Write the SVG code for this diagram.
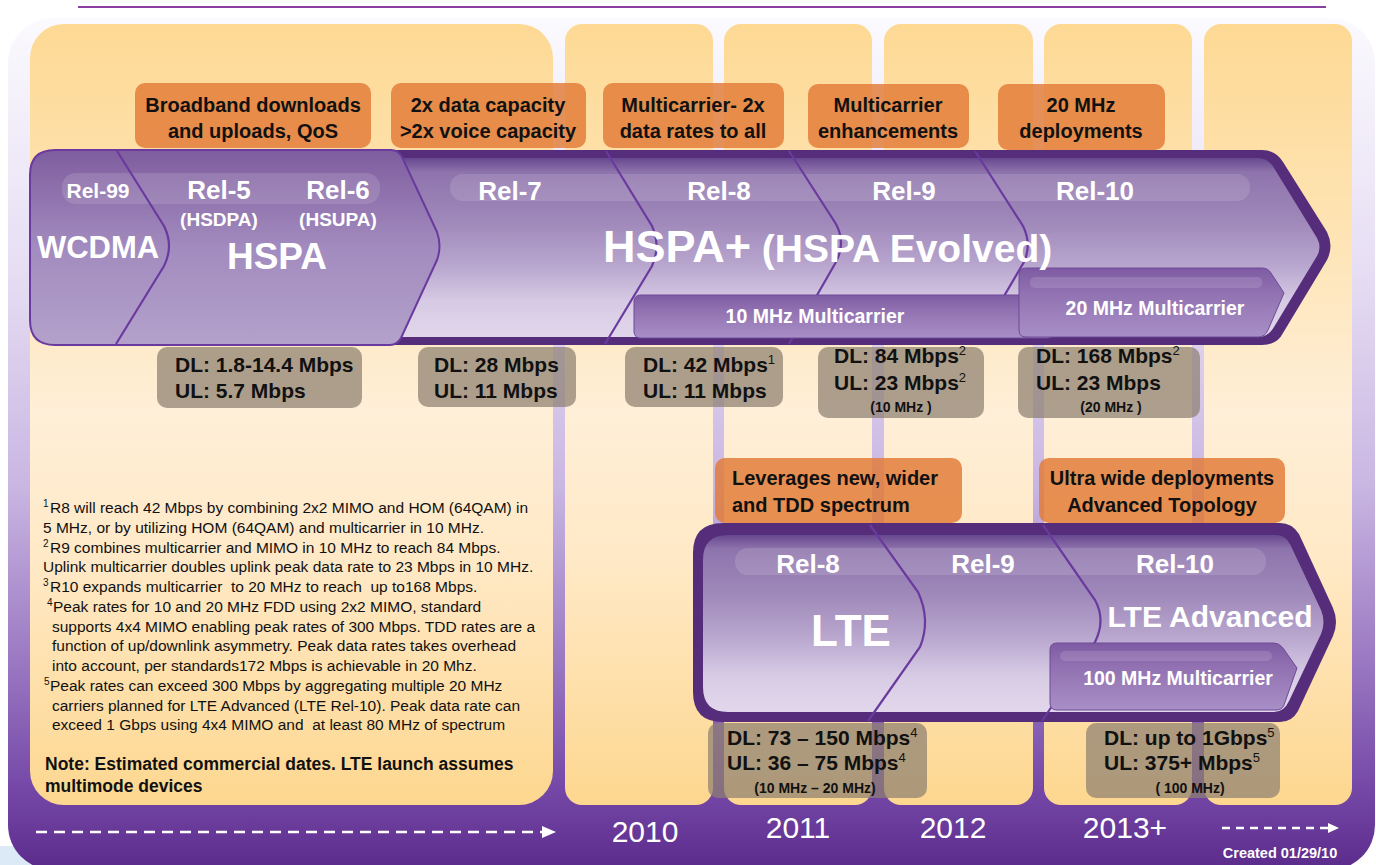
<svg xmlns="http://www.w3.org/2000/svg" width="1376" height="865" viewBox="0 0 1376 865">
<defs>
<linearGradient id="bgGrad" gradientUnits="userSpaceOnUse" x1="0" y1="18" x2="0" y2="870">
<stop offset="0" stop-color="#FBFAFE"/>
<stop offset="0.3" stop-color="#E6DDF3"/>
<stop offset="0.55" stop-color="#C9B6E2"/>
<stop offset="0.75" stop-color="#9C7AC3"/>
<stop offset="0.9" stop-color="#7649A8"/>
<stop offset="1" stop-color="#5B2B8C"/>
</linearGradient>
<linearGradient id="panelGrad" gradientUnits="userSpaceOnUse" x1="0" y1="24" x2="0" y2="805">
<stop offset="0" stop-color="#FDD994"/>
<stop offset="0.25" stop-color="#FEE3B2"/>
<stop offset="0.5" stop-color="#FFEFD8"/>
<stop offset="0.7" stop-color="#FFE8C4"/>
<stop offset="1" stop-color="#FDD78F"/>
</linearGradient>
<linearGradient id="hInner" gradientUnits="userSpaceOnUse" x1="0" y1="158" x2="0" y2="337">
<stop offset="0" stop-color="#674890"/>
<stop offset="0.08" stop-color="#8E74AC"/>
<stop offset="0.35" stop-color="#9F88BA"/>
<stop offset="0.6" stop-color="#B8A6CE"/>
<stop offset="0.8" stop-color="#D6CAE4"/>
<stop offset="1" stop-color="#E1D7EB"/>
</linearGradient>
<linearGradient id="lInner" gradientUnits="userSpaceOnUse" x1="0" y1="535" x2="0" y2="712">
<stop offset="0" stop-color="#674890"/>
<stop offset="0.08" stop-color="#8E74AC"/>
<stop offset="0.35" stop-color="#A08ABB"/>
<stop offset="0.6" stop-color="#BCAAD1"/>
<stop offset="0.8" stop-color="#D8CCE5"/>
<stop offset="1" stop-color="#E1D7EB"/>
</linearGradient>
<linearGradient id="chevGrad" gradientUnits="userSpaceOnUse" x1="0" y1="150" x2="0" y2="345">
<stop offset="0" stop-color="#7F5D9F"/>
<stop offset="0.5" stop-color="#A28BBE"/>
<stop offset="1" stop-color="#B3A1CB"/>
</linearGradient>
<linearGradient id="barGrad" x1="0" y1="0" x2="0" y2="1">
<stop offset="0" stop-color="#7E5BA3"/>
<stop offset="0.35" stop-color="#9171B1"/>
<stop offset="1" stop-color="#A88FC6"/>
</linearGradient>
<style>
text{font-family:"Liberation Sans",Arial,Helvetica,sans-serif}
.ob{font-weight:bold;font-size:20px;fill:#111;text-anchor:middle}
.obl{font-weight:bold;font-size:20px;fill:#111}
.rel{font-weight:bold;font-size:26px;fill:#fff;text-anchor:middle}
.wt{font-weight:bold;fill:#fff;text-anchor:middle}
.bar{font-weight:bold;font-size:19.5px;fill:#fff;text-anchor:middle}
.dl{font-weight:bold;font-size:21px;fill:#111}
.sup{font-weight:normal;font-size:13px}
.sm{font-weight:bold;font-size:14px;fill:#111;text-anchor:middle}
.fn{font-size:15.5px;fill:#111}
.note{font-weight:bold;font-size:17.5px;fill:#111}
.yr{font-size:30px;fill:#fff;text-anchor:middle}
.obox{fill:#E27A36;fill-opacity:0.82}
.dbox{fill:#8E8070;fill-opacity:0.72}
.panel{fill:url(#panelGrad)}
.sep{fill:none;stroke:#6A3A9E;stroke-width:2.2}
.border{fill:#552D7A}
.gloss{fill:#ffffff;fill-opacity:0.13}
.mbar{fill:url(#barGrad);stroke:#6E4A98;stroke-width:1}
.dash{stroke:#fff;stroke-width:2.5;fill:none}
</style>
</defs>

<rect x="0" y="0" width="1376" height="865" fill="#ffffff"/>
<rect x="0" y="846" width="70" height="19" fill="#DCEAF8"/>
<rect id="background" x="8" y="18" width="1367" height="852" rx="45" fill="url(#bgGrad)"/>
<line x1="78" y1="7" x2="1326" y2="7" stroke="#8B3FA0" stroke-width="2"/>

<g id="panels">
<rect class="panel" x="30" y="24" width="523" height="781" rx="34"/>
<rect class="panel" x="565" y="24" width="148" height="781" rx="17"/>
<rect class="panel" x="724" y="24" width="148" height="781" rx="17"/>
<rect class="panel" x="884" y="24" width="149" height="781" rx="17"/>
<rect class="panel" x="1044" y="24" width="148" height="781" rx="17"/>
<rect class="panel" x="1204" y="24" width="148" height="781" rx="17"/>
</g>

<g id="hspa-arrow">
<path class="border" d="M60,150 L1262,150 Q1276,150 1283,162 L1327,232 Q1334,246 1327,260 L1283,333 Q1277,345 1262,345 L60,345 Q30,345 30,315 L30,180 Q30,150 60,150 Z"/>
<path fill="url(#hInner)" d="M62,158 L1258,158 Q1268,158 1274,168 L1317,238 Q1322,247 1317,256 L1274,327 Q1268,337 1258,337 L62,337 Q38,337 38,313 L38,182 Q38,158 62,158 Z"/>
<rect class="gloss" x="450" y="174" width="800" height="27" rx="13"/>
<path class="sep" d="M606,151 L652,226 Q661,246 652,266 L605,344"/>
<path class="sep" d="M789,151 L836,224 Q846,243 836,262 L789,344"/>
<path class="sep" d="M975,151 L1023,226 Q1032,244 1024,262 L990,320"/>
<path fill="url(#chevGrad)" stroke="#6A3A9E" stroke-width="2" d="M55,150 L391,150 Q398,150 402,157 L437,232 Q442,246 437,260 L401,338 Q397,345 390,345 L55,345 Q30,345 30,320 L30,175 Q30,150 55,150 Z"/>
<rect class="gloss" x="62" y="173" width="318" height="31" rx="14"/>
<path class="sep" d="M117,151 L164,226 Q174,246 164,266 L116,344"/>
<rect class="mbar" x="634" y="295" width="420" height="43" rx="6"/>
<path class="mbar" d="M1026,268 L1262,268 Q1268,268 1271,273 L1284,293 L1268,330 Q1265,337 1258,337 L1026,337 Q1019,337 1019,330 L1019,275 Q1019,268 1026,268 Z"/>
<rect class="gloss" x="1030" y="277" width="232" height="11" rx="5"/>
<text class="wt" x="98" y="198" font-size="21">Rel-99</text>
<text class="wt" x="98" y="258" font-size="31">WCDMA</text>
<text class="rel" x="219" y="199">Rel-5</text>
<text class="wt" x="219" y="226" font-size="19">(HSDPA)</text>
<text class="rel" x="338" y="199">Rel-6</text>
<text class="wt" x="338" y="226" font-size="19">(HSUPA)</text>
<text class="wt" x="277" y="269" font-size="37">HSPA</text>
<text class="rel" x="510" y="200">Rel-7</text>
<text class="rel" x="719" y="200">Rel-8</text>
<text class="rel" x="904" y="200">Rel-9</text>
<text class="rel" x="1095" y="200">Rel-10</text>
<text x="603" y="262" font-weight="bold" fill="#fff"><tspan font-size="45">HSPA+</tspan><tspan font-size="39"> (HSPA Evolved)</tspan></text>
<text class="bar" x="815" y="323">10 MHz Multicarrier</text>
<text class="bar" x="1155" y="315">20 MHz Multicarrier</text>
</g>

<g id="hspa-features">
<rect class="obox" x="135" y="83" width="236" height="65" rx="10"/>
<text class="ob" x="253" y="112">Broadband downloads</text>
<text class="ob" x="253" y="138">and uploads, QoS</text>
<rect class="obox" x="391" y="83" width="195" height="65" rx="10"/>
<text class="ob" x="488" y="112">2x data capacity</text>
<text class="ob" x="488" y="138">&gt;2x voice capacity</text>
<rect class="obox" x="603" y="83" width="181" height="65" rx="10"/>
<text class="ob" x="693" y="112">Multicarrier- 2x</text>
<text class="ob" x="693" y="138">data rates to all</text>
<rect class="obox" x="808" y="84" width="161" height="64" rx="10"/>
<text class="ob" x="888" y="112">Multicarrier</text>
<text class="ob" x="888" y="138">enhancements</text>
<rect class="obox" x="998" y="84" width="167" height="66" rx="10"/>
<text class="ob" x="1081" y="112">20 MHz</text>
<text class="ob" x="1081" y="138">deployments</text>
</g>

<g id="hspa-rates">
<rect class="dbox" x="157" y="347" width="205" height="61" rx="10"/>
<text class="dl" x="175" y="372">DL: 1.8-14.4 Mbps</text>
<text class="dl" x="175" y="398">UL: 5.7 Mbps</text>
<rect class="dbox" x="418" y="347" width="158" height="60" rx="10"/>
<text class="dl" x="434" y="372">DL: 28 Mbps</text>
<text class="dl" x="434" y="398">UL: 11 Mbps</text>
<rect class="dbox" x="625" y="347" width="158" height="60" rx="10"/>
<text class="dl" x="643" y="372">DL: 42 Mbps<tspan class="sup" dy="-8">1</tspan></text>
<text class="dl" x="643" y="398">UL: 11 Mbps</text>
<rect class="dbox" x="818" y="347" width="166" height="71" rx="10"/>
<text class="dl" x="834" y="363">DL: 84 Mbps<tspan class="sup" dy="-8">2</tspan></text>
<text class="dl" x="834" y="390">UL: 23 Mbps<tspan class="sup" dy="-8">2</tspan></text>
<text class="sm" x="901" y="412">(10 MHz )</text>
<rect class="dbox" x="1018" y="347" width="182" height="71" rx="10"/>
<text class="dl" x="1036" y="363">DL: 168 Mbps<tspan class="sup" dy="-8">2</tspan></text>
<text class="dl" x="1036" y="390">UL: 23 Mbps</text>
<text class="sm" x="1111" y="412">(20 MHz )</text>
</g>

<g id="lte-features">
<rect class="obox" x="715" y="458" width="247" height="65" rx="10"/>
<text class="obl" x="732" y="485">Leverages new, wider</text>
<text class="obl" x="732" y="512">and TDD spectrum</text>
<rect class="obox" x="1039" y="458" width="246" height="65" rx="10"/>
<text class="ob" x="1162" y="485">Ultra wide deployments</text>
<text class="ob" x="1162" y="512">Advanced Topology</text>
</g>

<g id="lte-arrow">
<path class="border" d="M723,523 L1280,523 Q1292,523 1299,534 L1333,608 Q1339,622 1333,636 L1298,711 Q1292,722 1280,722 L723,722 Q693,722 693,692 L693,553 Q693,523 723,523 Z"/>
<path fill="url(#lInner)" d="M728,535 L1276,535 Q1285,535 1290,544 L1321,610 Q1326,622 1321,634 L1289,701 Q1284,712 1274,712 L728,712 Q703,712 703,687 L703,560 Q703,535 728,535 Z"/>
<rect class="gloss" x="735" y="548" width="531" height="27" rx="13"/>
<path class="sep" d="M870,525 L918,592 Q931,620 920,647 L868,721"/>
<path class="sep" d="M1043,525 L1095,600 Q1106,620 1095,642 L1042,721"/>
<path class="mbar" d="M1057,643 L1274,643 Q1279,643 1283,648 L1297,668 L1284,705 Q1282,710 1276,710 L1057,710 Q1050,710 1050,703 L1050,650 Q1050,643 1057,643 Z"/>
<rect class="gloss" x="1060" y="651" width="212" height="10" rx="5"/>
<text class="rel" x="808" y="573">Rel-8</text>
<text class="rel" x="983" y="573">Rel-9</text>
<text class="rel" x="1175" y="573">Rel-10</text>
<text class="wt" x="851" y="646" font-size="44">LTE</text>
<text class="wt" x="1210" y="627" font-size="30">LTE Advanced</text>
<text class="bar" x="1178" y="685">100 MHz Multicarrier</text>
</g>

<g id="lte-rates">
<rect class="dbox" x="708" y="723" width="219" height="75" rx="10"/>
<text class="dl" x="727" y="745">DL: 73 – 150 Mbps<tspan class="sup" dy="-8">4</tspan></text>
<text class="dl" x="727" y="770">UL: 36 – 75 Mbps<tspan class="sup" dy="-8">4</tspan></text>
<text class="sm" x="815" y="793">(10 MHz – 20 MHz)</text>
<rect class="dbox" x="1086" y="723" width="194" height="75" rx="10"/>
<text class="dl" x="1104" y="745">DL: up to 1Gbps<tspan class="sup" dy="-8">5</tspan></text>
<text class="dl" x="1104" y="770">UL: 375+ Mbps<tspan class="sup" dy="-8">5</tspan></text>
<text class="sm" x="1190" y="793">( 100 MHz)</text>
</g>

<g id="footnotes">
<text class="fn" x="43" y="513"><tspan font-size="10" dy="-6">1</tspan><tspan x="50" dy="6">R8 will reach 42 Mbps by combining 2x2 MIMO and HOM (64QAM) in</tspan></text>
<text class="fn" x="43" y="533">5 MHz, or by utilizing HOM (64QAM) and multicarrier in 10 MHz.</text>
<text class="fn" x="43" y="553"><tspan font-size="10" dy="-6">2</tspan><tspan x="50" dy="6">R9 combines multicarrier and MIMO in 10 MHz to reach 84 Mbps.</tspan></text>
<text class="fn" x="43" y="572">Uplink multicarrier doubles uplink peak data rate to 23 Mbps in 10 MHz.</text>
<text class="fn" x="43" y="592" xml:space="preserve"><tspan font-size="10" dy="-6">3</tspan><tspan x="50" dy="6">R10 expands multicarrier  to 20 MHz to reach  up to168 Mbps.</tspan></text>
<text class="fn" x="47" y="612"><tspan font-size="10" dy="-6">4</tspan><tspan x="53" dy="6">Peak rates for 10 and 20 MHz FDD using 2x2 MIMO, standard</tspan></text>
<text class="fn" x="52" y="632">supports 4x4 MIMO enabling peak rates of 300 Mbps. TDD rates are a</text>
<text class="fn" x="52" y="651">function of up/downlink asymmetry. Peak data rates takes overhead</text>
<text class="fn" x="52" y="671">into account, per standards172 Mbps is achievable in 20 Mhz.</text>
<text class="fn" x="44" y="691"><tspan font-size="10" dy="-6">5</tspan><tspan x="50" dy="6">Peak rates can exceed 300 Mbps by aggregating multiple 20 MHz</tspan></text>
<text class="fn" x="52" y="711">carriers planned for LTE Advanced (LTE Rel-10). Peak data rate can</text>
<text class="fn" x="52" y="730" xml:space="preserve">exceed 1 Gbps using 4x4 MIMO and  at least 80 MHz of spectrum</text>
<text class="note" x="45" y="770">Note: Estimated commercial dates. LTE launch assumes</text>
<text class="note" x="45" y="792">multimode devices</text>
</g>

<g id="timeline">
<text class="yr" x="645" y="842">2010</text>
<text class="yr" x="798" y="838">2011</text>
<text class="yr" x="953" y="838">2012</text>
<text class="yr" x="1125" y="838">2013+</text>
<text x="1280" y="858" font-weight="bold" font-size="14.5" fill="#fff" text-anchor="middle">Created 01/29/10</text>
</g>

<g id="connectors">
<line class="dash" x1="36" y1="832" x2="542" y2="832" stroke-dasharray="11 7"/>
<polygon points="542,826 556,832 542,838" fill="#fff"/>
<line class="dash" x1="1222" y1="828" x2="1328" y2="828" stroke-dasharray="8 6"/>
<polygon points="1328,823 1339,828 1328,833" fill="#fff"/>
</g>
</svg>
